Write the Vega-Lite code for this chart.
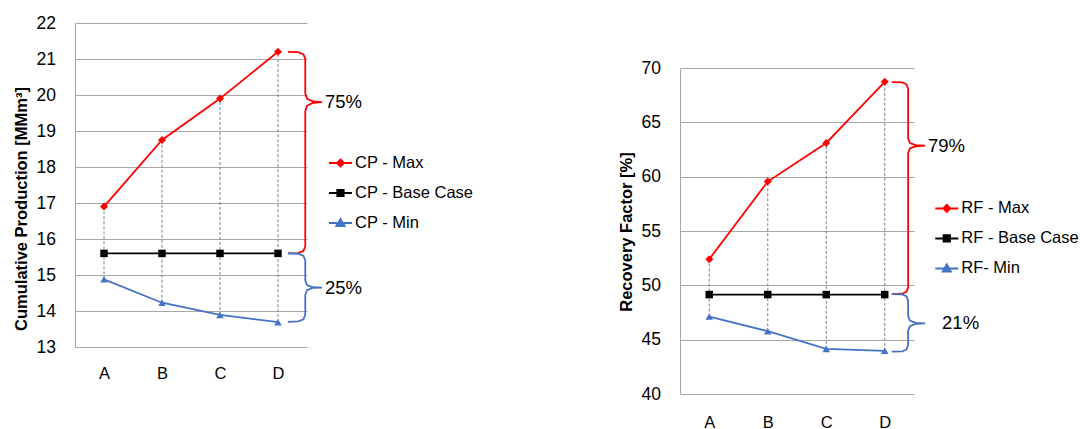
{
  "$schema": "https://vega.github.io/schema/vega-lite/v6.json",
  "padding": {"left": 13, "top": 14, "right": 0, "bottom": 0},
  "background": "white",
  "spacing": 144,
  "resolve": {"scale": {"color": "independent", "shape": "independent"}, "legend": {"color": "independent", "shape": "independent"}},
  "datasets": {
    "cp": [
      {"cat": "A", "series": "CP - Max", "value": 16.9},
      {"cat": "B", "series": "CP - Max", "value": 18.75},
      {"cat": "C", "series": "CP - Max", "value": 19.9},
      {"cat": "D", "series": "CP - Max", "value": 21.2},
      {"cat": "A", "series": "CP - Base Case", "value": 15.6},
      {"cat": "B", "series": "CP - Base Case", "value": 15.6},
      {"cat": "C", "series": "CP - Base Case", "value": 15.6},
      {"cat": "D", "series": "CP - Base Case", "value": 15.6},
      {"cat": "A", "series": "CP - Min", "value": 14.88},
      {"cat": "B", "series": "CP - Min", "value": 14.23},
      {"cat": "C", "series": "CP - Min", "value": 13.89},
      {"cat": "D", "series": "CP - Min", "value": 13.69}
    ],
    "rf": [
      {"cat": "A", "series": "RF - Max", "value": 52.4},
      {"cat": "B", "series": "RF - Max", "value": 59.55},
      {"cat": "C", "series": "RF - Max", "value": 63.1},
      {"cat": "D", "series": "RF - Max", "value": 68.73},
      {"cat": "A", "series": "RF - Base Case", "value": 49.15},
      {"cat": "B", "series": "RF - Base Case", "value": 49.15},
      {"cat": "C", "series": "RF - Base Case", "value": 49.15},
      {"cat": "D", "series": "RF - Base Case", "value": 49.15},
      {"cat": "A", "series": "RF- Min", "value": 47.12},
      {"cat": "B", "series": "RF- Min", "value": 45.78},
      {"cat": "C", "series": "RF- Min", "value": 44.15},
      {"cat": "D", "series": "RF- Min", "value": 43.97}
    ],
    "cpBrace": [
      {"brace": "max", "k": 1, "pos": 3.67, "value": 21.2},
      {"brace": "max", "k": 2, "pos": 3.85, "value": 21.19},
      {"brace": "max", "k": 3, "pos": 3.94, "value": 21.13},
      {"brace": "max", "k": 4, "pos": 3.97, "value": 21.0},
      {"brace": "max", "k": 5, "pos": 3.97, "value": 20.05},
      {"brace": "max", "k": 6, "pos": 4.0, "value": 19.9},
      {"brace": "max", "k": 7, "pos": 4.1, "value": 19.82},
      {"brace": "max", "k": 8, "pos": 4.26, "value": 19.8},
      {"brace": "max", "k": 9, "pos": 4.1, "value": 19.78},
      {"brace": "max", "k": 10, "pos": 4.0, "value": 19.7},
      {"brace": "max", "k": 11, "pos": 3.97, "value": 19.55},
      {"brace": "max", "k": 12, "pos": 3.97, "value": 15.8},
      {"brace": "max", "k": 13, "pos": 3.94, "value": 15.67},
      {"brace": "max", "k": 14, "pos": 3.85, "value": 15.61},
      {"brace": "max", "k": 15, "pos": 3.67, "value": 15.6},
      {"brace": "min", "k": 1, "pos": 3.67, "value": 15.6},
      {"brace": "min", "k": 2, "pos": 3.85, "value": 15.59},
      {"brace": "min", "k": 3, "pos": 3.94, "value": 15.53},
      {"brace": "min", "k": 4, "pos": 3.97, "value": 15.4},
      {"brace": "min", "k": 5, "pos": 3.97, "value": 14.85},
      {"brace": "min", "k": 6, "pos": 4.0, "value": 14.72},
      {"brace": "min", "k": 7, "pos": 4.1, "value": 14.66},
      {"brace": "min", "k": 8, "pos": 4.26, "value": 14.65},
      {"brace": "min", "k": 9, "pos": 4.1, "value": 14.64},
      {"brace": "min", "k": 10, "pos": 4.0, "value": 14.58},
      {"brace": "min", "k": 11, "pos": 3.97, "value": 14.45},
      {"brace": "min", "k": 12, "pos": 3.97, "value": 13.9},
      {"brace": "min", "k": 13, "pos": 3.94, "value": 13.77},
      {"brace": "min", "k": 14, "pos": 3.85, "value": 13.71},
      {"brace": "min", "k": 15, "pos": 3.67, "value": 13.7}
    ],
    "rfBrace": [
      {"brace": "max", "k": 1, "pos": 3.62, "value": 68.7},
      {"brace": "max", "k": 2, "pos": 3.8, "value": 68.67},
      {"brace": "max", "k": 3, "pos": 3.87, "value": 68.5},
      {"brace": "max", "k": 4, "pos": 3.9, "value": 68.1},
      {"brace": "max", "k": 5, "pos": 3.9, "value": 63.5},
      {"brace": "max", "k": 6, "pos": 3.93, "value": 63.1},
      {"brace": "max", "k": 7, "pos": 4.03, "value": 62.9},
      {"brace": "max", "k": 8, "pos": 4.19, "value": 62.85},
      {"brace": "max", "k": 9, "pos": 4.03, "value": 62.8},
      {"brace": "max", "k": 10, "pos": 3.93, "value": 62.6},
      {"brace": "max", "k": 11, "pos": 3.9, "value": 62.2},
      {"brace": "max", "k": 12, "pos": 3.9, "value": 49.8},
      {"brace": "max", "k": 13, "pos": 3.87, "value": 49.4},
      {"brace": "max", "k": 14, "pos": 3.8, "value": 49.23},
      {"brace": "max", "k": 15, "pos": 3.62, "value": 49.2},
      {"brace": "min", "k": 1, "pos": 3.62, "value": 49.2},
      {"brace": "min", "k": 2, "pos": 3.8, "value": 49.17},
      {"brace": "min", "k": 3, "pos": 3.87, "value": 49.0},
      {"brace": "min", "k": 4, "pos": 3.9, "value": 48.6},
      {"brace": "min", "k": 5, "pos": 3.9, "value": 47.15},
      {"brace": "min", "k": 6, "pos": 3.93, "value": 46.75},
      {"brace": "min", "k": 7, "pos": 4.03, "value": 46.55},
      {"brace": "min", "k": 8, "pos": 4.19, "value": 46.5},
      {"brace": "min", "k": 9, "pos": 4.03, "value": 46.45},
      {"brace": "min", "k": 10, "pos": 3.93, "value": 46.25},
      {"brace": "min", "k": 11, "pos": 3.9, "value": 45.85},
      {"brace": "min", "k": 12, "pos": 3.9, "value": 44.5},
      {"brace": "min", "k": 13, "pos": 3.87, "value": 44.1},
      {"brace": "min", "k": 14, "pos": 3.8, "value": 43.93},
      {"brace": "min", "k": 15, "pos": 3.62, "value": 43.9}
    ],
    "cpText": [
      {"label": "75%", "pos": 4.31, "value": 19.8},
      {"label": "25%", "pos": 4.31, "value": 14.65}
    ],
    "rfText": [
      {"label": "79%", "pos": 4.24, "value": 62.85},
      {"label": "21%", "pos": 4.48, "value": 46.5}
    ],
    "empty": []
  },
  "hconcat": [
    {
      "width": 232,
      "height": 324,
      "encoding": {
        "y": {"field": "value", "type": "quantitative",
              "scale": {"domain": [13, 22], "nice": false, "zero": false},
              "axis": {"title": "Cumulative Production [MMm³]", "values": [13,14,15,16,17,18,19,20,21,22], "labelOverlap": false, "grid": true, "gridColor": "#a6a6a6", "domainColor": "#a6a6a6", "ticks": false, "tickSize": 0, "labelFontSize": 17.5, "labelPadding": 19.5, "titleFontSize": 16.5, "titleFontWeight": "bold", "titleX": -45.7, "titleY": 185.5, "titleAngle": -90, "titleBaseline": "bottom", "titleAlign": "center"}}
      },
      "layer": [
        {
          "data": {"name": "cp"},
          "encoding": {
            "x": {"field": "cat", "type": "ordinal", "scale": {"type": "point", "padding": 0.5},
                  "axis": {"title": null, "labelAngle": 0, "labelFontSize": 16.5, "labelPadding": 18, "ticks": false, "tickSize": 0, "domain": false, "grid": false}}
          },
          "layer": [
            {
              "transform": [{"aggregate": [{"op": "min", "field": "value", "as": "value"}, {"op": "max", "field": "value", "as": "vmax"}], "groupby": ["cat"]}],
              "mark": {"type": "rule", "strokeDash": [3, 2], "color": "#808080", "strokeWidth": 1},
              "encoding": {"y2": {"field": "vmax"}}
            },
            {
              "mark": {"type": "line", "strokeWidth": 1.8},
              "encoding": {
                "color": {"field": "series", "type": "nominal",
                  "scale": {"domain": ["CP - Max", "CP - Base Case", "CP - Min"], "range": ["#ff0000", "#000000", "#4472c4"]},
                  "legend": {"orient": "none", "legendX": 253, "legendY": 127.5, "title": null, "labelFontSize": 16.5, "labelColor": "#000", "labelOffset": 2, "rowPadding": 9, "symbolSize": 529,
                    "encode": {"symbols": {"update": {
                      "shape": {"signal": "indexof(datum.value, 'Max') >= 0 ? 'M-1,0H1M0,-0.3L0.3,0L0,0.3L-0.3,0Z' : indexof(datum.value, 'Base') >= 0 ? 'M-1,0H1M-0.27,-0.27H0.27V0.27H-0.27Z' : 'M-1,0H1M0,-0.33L0.35,0.27H-0.35Z'"},
                      "fill": {"signal": "indexof(datum.value, 'Max') >= 0 ? '#ff0000' : indexof(datum.value, 'Base') >= 0 ? '#000000' : '#4472c4'"},
                      "stroke": {"signal": "indexof(datum.value, 'Max') >= 0 ? '#ff0000' : indexof(datum.value, 'Base') >= 0 ? '#000000' : '#4472c4'"},
                      "strokeWidth": {"value": 2}, "opacity": {"value": 1}, "fillOpacity": {"value": 1}, "strokeOpacity": {"value": 1}
                    }}}}
                }
              }
            },
            {
              "transform": [{"filter": "datum.series === 'CP - Max'"}],
              "mark": {"type": "point", "shape": "diamond", "filled": true, "color": "#ff0000", "opacity": 1, "size": 64}
            },
            {
              "transform": [{"filter": "datum.series === 'CP - Base Case'"}],
              "mark": {"type": "point", "shape": "square", "filled": true, "color": "#000000", "opacity": 1, "size": 56}
            },
            {
              "transform": [{"filter": "datum.series === 'CP - Min'"}],
              "mark": {"type": "point", "shape": "triangle-up", "filled": true, "color": "#4472c4", "opacity": 1, "size": 56}
            }
          ]
        },
        {
          "data": {"name": "cpBrace"},
          "encoding": {
            "x": {"field": "pos", "type": "quantitative", "scale": {"domain": [0, 4], "nice": false, "zero": false}, "axis": null}
          },
          "layer": [
            {
              "transform": [{"filter": "datum.brace === 'max'"}],
              "mark": {"type": "line", "color": "#ff0000", "strokeWidth": 1.8, "clip": false},
              "encoding": {"order": {"field": "k", "type": "quantitative"}}
            },
            {
              "transform": [{"filter": "datum.brace === 'min'"}],
              "mark": {"type": "line", "color": "#4472c4", "strokeWidth": 1.8, "clip": false},
              "encoding": {"order": {"field": "k", "type": "quantitative"}}
            },
            {
              "data": {"name": "cpText"},
              "mark": {"type": "text", "align": "left", "baseline": "middle", "fontSize": 18.5, "color": "#000"},
              "encoding": {"text": {"field": "label"}}
            }
          ]
        }
      ],
      "resolve": {"scale": {"x": "independent"}}
    },
    {
      "spacing": 0,
      "resolve": {"scale": {"color": "independent"}, "legend": {"color": "independent"}},
      "vconcat": [
        {
          "width": 234,
          "height": 36,
          "data": {"name": "empty"},
          "mark": {"type": "point"},
          "encoding": {}
        },
        {
          "width": 234,
          "height": 326,
          "encoding": {
            "y": {"field": "value", "type": "quantitative",
                  "scale": {"domain": [40, 70], "nice": false, "zero": false},
                  "axis": {"title": "Recovery Factor [%]", "values": [40,45,50,55,60,65,70], "labelOverlap": false, "grid": true, "gridColor": "#a6a6a6", "domainColor": "#a6a6a6", "ticks": false, "tickSize": 0, "labelFontSize": 17.5, "labelPadding": 19.5, "titleFontSize": 16.5, "titleFontWeight": "bold", "titleX": -45.7, "titleY": 163.5, "titleAngle": -90, "titleBaseline": "bottom", "titleAlign": "center"}}
          },
          "layer": [
            {
              "data": {"name": "rf"},
              "encoding": {
                "x": {"field": "cat", "type": "ordinal", "scale": {"type": "point", "padding": 0.5},
                      "axis": {"title": null, "labelAngle": 0, "labelFontSize": 16.5, "labelPadding": 20, "ticks": false, "tickSize": 0, "domain": false, "grid": false}}
              },
              "layer": [
                {
                  "transform": [{"aggregate": [{"op": "min", "field": "value", "as": "value"}, {"op": "max", "field": "value", "as": "vmax"}], "groupby": ["cat"]}],
                  "mark": {"type": "rule", "strokeDash": [3, 2], "color": "#808080", "strokeWidth": 1},
                  "encoding": {"y2": {"field": "vmax"}}
                },
                {
                  "mark": {"type": "line", "strokeWidth": 1.8},
                  "encoding": {
                    "color": {"field": "series", "type": "nominal",
                      "scale": {"domain": ["RF - Max", "RF - Base Case", "RF- Min"], "range": ["#ff0000", "#000000", "#4472c4"]},
                      "legend": {"orient": "none", "legendX": 254.3, "legendY": 127.9, "title": null, "labelFontSize": 16.5, "labelColor": "#000", "labelOffset": 2, "rowPadding": 9, "symbolSize": 529,
                        "encode": {"symbols": {"update": {
                          "shape": {"signal": "indexof(datum.value, 'Max') >= 0 ? 'M-1,0H1M0,-0.3L0.3,0L0,0.3L-0.3,0Z' : indexof(datum.value, 'Base') >= 0 ? 'M-1,0H1M-0.27,-0.27H0.27V0.27H-0.27Z' : 'M-1,0H1M0,-0.33L0.35,0.27H-0.35Z'"},
                          "fill": {"signal": "indexof(datum.value, 'Max') >= 0 ? '#ff0000' : indexof(datum.value, 'Base') >= 0 ? '#000000' : '#4472c4'"},
                          "stroke": {"signal": "indexof(datum.value, 'Max') >= 0 ? '#ff0000' : indexof(datum.value, 'Base') >= 0 ? '#000000' : '#4472c4'"},
                          "strokeWidth": {"value": 2}, "opacity": {"value": 1}, "fillOpacity": {"value": 1}, "strokeOpacity": {"value": 1}
                        }}}}
                    }
                  }
                },
                {
                  "transform": [{"filter": "datum.series === 'RF - Max'"}],
                  "mark": {"type": "point", "shape": "diamond", "filled": true, "color": "#ff0000", "opacity": 1, "size": 64}
                },
                {
                  "transform": [{"filter": "datum.series === 'RF - Base Case'"}],
                  "mark": {"type": "point", "shape": "square", "filled": true, "color": "#000000", "opacity": 1, "size": 56}
                },
                {
                  "transform": [{"filter": "datum.series === 'RF- Min'"}],
                  "mark": {"type": "point", "shape": "triangle-up", "filled": true, "color": "#4472c4", "opacity": 1, "size": 56}
                }
              ]
            },
            {
              "data": {"name": "rfBrace"},
              "encoding": {
                "x": {"field": "pos", "type": "quantitative", "scale": {"domain": [0, 4], "nice": false, "zero": false}, "axis": null}
              },
              "layer": [
                {
                  "transform": [{"filter": "datum.brace === 'max'"}],
                  "mark": {"type": "line", "color": "#ff0000", "strokeWidth": 1.8, "clip": false},
                  "encoding": {"order": {"field": "k", "type": "quantitative"}}
                },
                {
                  "transform": [{"filter": "datum.brace === 'min'"}],
                  "mark": {"type": "line", "color": "#4472c4", "strokeWidth": 1.8, "clip": false},
                  "encoding": {"order": {"field": "k", "type": "quantitative"}}
                },
                {
                  "data": {"name": "rfText"},
                  "mark": {"type": "text", "align": "left", "baseline": "middle", "fontSize": 18.5, "color": "#000"},
                  "encoding": {"text": {"field": "label"}}
                }
              ]
            }
          ],
          "resolve": {"scale": {"x": "independent"}}
        }
      ]
    }
  ],
  "config": {
    "font": "Liberation Sans",
    "view": {"stroke": null},
    "axis": {"labelColor": "#000", "titleColor": "#000", "labelFont": "Liberation Sans", "titleFont": "Liberation Sans"},
    "legend": {"labelFont": "Liberation Sans"},
    "title": {"font": "Liberation Sans"}
  }
}
